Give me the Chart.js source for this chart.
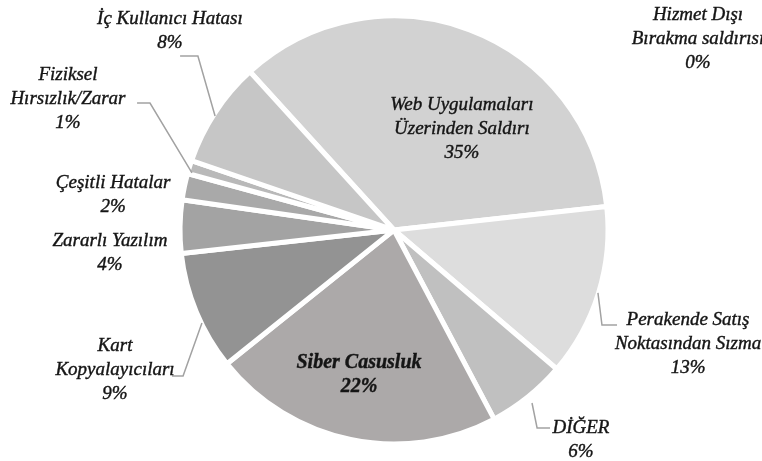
<!DOCTYPE html>
<html>
<head>
<meta charset="utf-8">
<script src="https://cdn.jsdelivr.net/npm/chart.js@4.4.0/dist/chart.umd.min.js"></script>
<style>
  html, body { margin: 0; padding: 0; background: #fff; }
  #wrap { width: 762px; height: 461px; }
</style>
</head>
<body>
<div id="wrap"><canvas id="myChart" width="762" height="461"></canvas></div>
<script>
// kategoriler (saat yönünde, Web'den başlayarak)
const kategoriler = [
  ['Web Uygulamaları', 'Üzerinden Saldırı'],
  ['Perakende Satış', 'Noktasından Sızma'],
  ['DİĞER'],
  ['Siber Casusluk'],
  ['Kart', 'Kopyalayıcıları'],
  ['Zararlı Yazılım'],
  ['Çeşitli Hatalar'],
  ['Fiziksel', 'Hırsızlık/Zarar'],
  ['İç Kullanıcı Hatası'],
  ['Hizmet Dışı', 'Bırakma saldırısı']
];
const yuzdeler = [35, 13, 6, 22, 9, 4, 2, 1, 8, 0];

const renkler = ['#d2d2d2', '#dddddd', '#c0c0c0', '#aca9a9', '#939393',
                 '#a3a3a3', '#a9a9a9', '#b9b9b9', '#c6c6c6', '#d2d2d2'];

// etiket yerleri: merkeze göre, yarıçap cinsinden
const etiketYer = [
  [0.32, -0.49], [1.387, 0.524], [0.882, 0.976], [-0.165, 0.67], [-1.316, 0.646],
  [-1.34, 0.092], [-1.325, -0.179], [-1.538, -0.632], [-1.057, -0.953], [1.434, -0.915]
];
// kılavuz çizgiler
const cizgiler = [
  null,
  [[0.962, 0.297], [0.981, 0.448], [1.052, 0.448]],
  [[0.651, 0.816], [0.675, 0.934], [0.736, 0.934]],
  null,
  [[-0.906, 0.439], [-0.995, 0.689], [-1.047, 0.689]],
  null, null,
  [[-0.953, -0.269], [-1.151, -0.599], [-1.212, -0.599]],
  [[-0.844, -0.538], [-0.925, -0.821], [-1.009, -0.821]],
  null
];

const yazi = '"Liberation Serif", "Times New Roman", serif';

const etiketPlugin = {
  id: 'etiketler',
  afterDatasetsDraw(chart) {
    const ctx = chart.ctx;
    const arc = chart.getDatasetMeta(0).data[0];
    const cx = arc.x, cy = arc.y, r = 212;
    ctx.save();
    ctx.strokeStyle = '#a2a2a2';
    ctx.lineWidth = 1.5;
    cizgiler.forEach(c => {
      if (!c) return;
      ctx.beginPath();
      c.forEach((p, i) => {
        const x = cx + p[0] * r, y = cy + p[1] * r;
        if (i === 0) ctx.moveTo(x, y); else ctx.lineTo(x, y);
      });
      ctx.stroke();
    });
    ctx.fillStyle = '#151515';
    ctx.strokeStyle = '#151515';
    ctx.lineWidth = 0.4;
    ctx.textAlign = 'center';
    ctx.textBaseline = 'middle';
    const lh = 24;
    kategoriler.forEach((k, i) => {
      const lines = k.concat([yuzdeler[i] + '%']);
      const x = cx + etiketYer[i][0] * r;
      const y0 = cy + etiketYer[i][1] * r + 3 - (lines.length - 1) * lh / 2;
      ctx.font = (i === 3 ? 'italic bold 20px ' : 'italic 19px ') + yazi;
      lines.forEach((t, j) => {
        ctx.fillText(t, x, y0 + j * lh);
        ctx.strokeText(t, x, y0 + j * lh);
      });
    });
    ctx.restore();
  }
};

const ctx = document.getElementById('myChart').getContext('2d');
const myChart = new Chart(ctx, {
  type: 'pie',
  data: {
    labels: kategoriler.map(k => k.join(' ')),
    datasets: [{
      data: yuzdeler,
      backgroundColor: renkler,
      borderColor: '#ffffff',
      borderWidth: yuzdeler.map(v => v > 0 ? 5 : 0),
      radius: 214
    }]
  },
  options: {
    responsive: false,
    animation: false,
    rotation: -42.3,
    layout: { padding: { top: 18, bottom: 19, left: 26, right: 0 } },
    plugins: {
      legend: { display: false },
      tooltip: { enabled: false }
    }
  },
  plugins: [etiketPlugin]
});
</script>
</body>
</html>
